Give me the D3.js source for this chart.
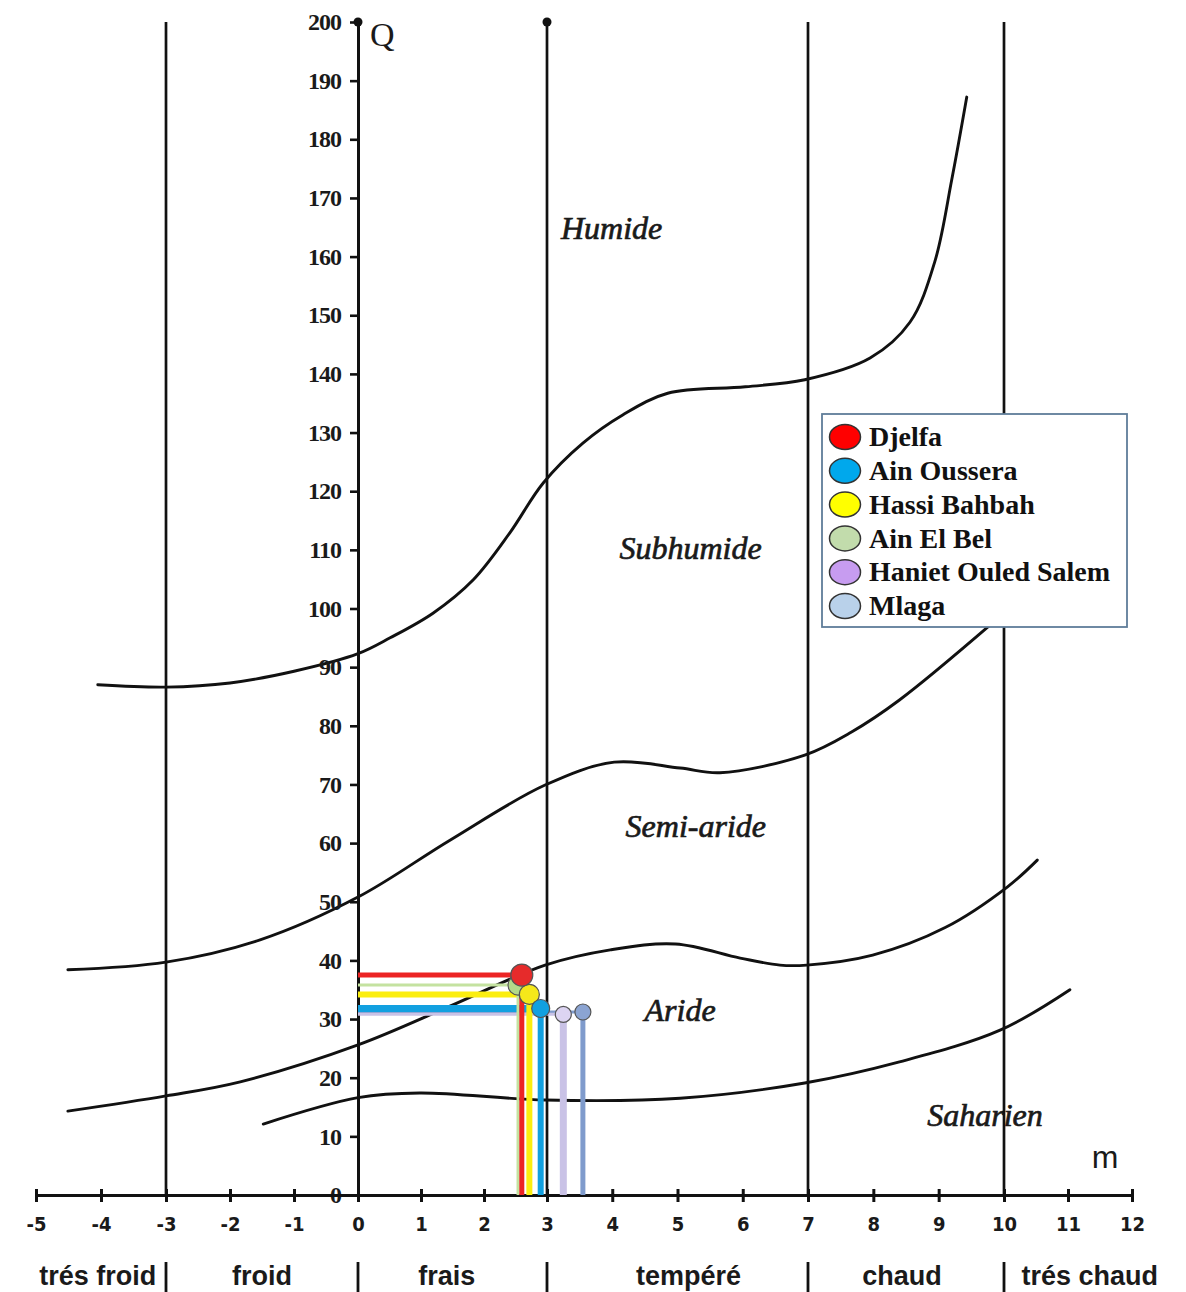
<!DOCTYPE html>
<html>
<head>
<meta charset="utf-8">
<script src="https://cdn.jsdelivr.net/npm/d3@7"></script>
<style>
  body { margin: 0; background: #fff; }
  svg { display: block; }
</style>
</head>
<body>
<script>
// Emberger climagram: Q (pluviothermic quotient) against m (mean min temp of coldest month)

// axis ticks
const mTicks = [-5, -4, -3, -2, -1, 0, 1, 2, 3, 4, 5, 6, 7, 8, 9, 10, 11, 12];
const qTicks = [0, 10, 20, 30, 40, 50, 60, 70, 80, 90, 100, 110, 120, 130, 140, 150, 160, 170, 180, 190, 200];

// winter variants along the bottom
const zoneNames = ["trés froid", "froid", "frais", "tempéré", "chaud", "trés chaud"];
const zoneCenters = [-4.05, -1.5, 1.41, 5.17, 8.44, 11.34];
const zoneBounds = [-3, 0, 3, 7, 10];

// bioclimatic stage boundaries, [m, Q]
const curveHumide = [[-4.05, 87], [-3, 86.6], [-2, 87.3], [-1, 89.3], [0, 92.3], [0.51, 95], [1.19, 99.2],
  [1.83, 104.9], [2.41, 112.9], [2.94, 121.4], [3.55, 128.2], [4.16, 133], [4.85, 136.7], [6.04, 137.8],
  [6.95, 139], [7.95, 142.7], [8.56, 148.8], [8.94, 159.1], [9.2, 173.1], [9.43, 187.2]];
const curveSubhumide = [[-4.51, 38.4], [-3, 39.7], [-1.53, 43.5], [0, 50.8], [1.46, 60.5], [2.97, 69.9],
  [4.03, 73.8], [5.04, 72.8], [5.65, 72], [6.95, 75], [7.66, 78.9], [8.4, 84.4], [9.79, 97.2]];
const curveSemiAride = [[-4.51, 14.3], [-3, 16.9], [-1.84, 19.3], [0, 25.6], [1.46, 32.2], [2.97, 39.2],
  [3.97, 41.8], [4.97, 42.8], [5.96, 40.4], [6.57, 39.2], [6.98, 39.2], [7.99, 40.9], [9.1, 45.6],
  [10.05, 52.5], [10.52, 57.1]];
const curveAride = [[-1.48, 12.1], [0, 16.6], [0.98, 17.4], [2.97, 16.2], [5.04, 16.5], [6.95, 19.1],
  [8.4, 22.7], [9.94, 28.1], [11.03, 35]];

const stageNames = ["Humide", "Subhumide", "Semi-aride", "Aride", "Saharien"];
const stageM = [3.99, 5.2, 5.28, 5.04, 9.71];
const stageQ = [164.9, 110.3, 62.9, 31.5, 13.6];

// stations
const stations = ["Djelfa", "Ain Oussera", "Hassi Bahbah", "Ain El Bel", "Haniet Ouled Salem", "Mlaga"];
const stationM = [2.6, 2.9, 2.72, 2.54, 3.25, 3.55];
const stationQ = [37.5, 31.8, 34.2, 35.8, 30.8, 31.2];

// styles
const legendColors = ["#ff0000", "#00a8ec", "#ffff00", "#c2dcac", "#c79cf0", "#b9d1ea"];
const lineColors = ["#ec2424", "#12a0e0", "#fbee10", "#c4e2a0", "#c9c2e6", "#7f9bcc"];
const dotFill = ["#e62b2b", "#12a0e0", "#f5e81a", "#b3d98a", "#dcd4f2", "#8ba4d2"];
const hWidth = [5, 7, 6, 3, 3, 3];
const vWidth = [5, 6, 6, 3, 7, 5];
const dotR = [11, 9, 10, 10, 8, 8];

const width = 1186, height = 1292;
const svg = d3.select("body").append("svg")
  .attr("width", width)
  .attr("height", height);

const x = d3.scaleLinear()
  .domain([-5, -3, 0, 3, 7, 10, 12])
  .range([36, 166, 358, 547, 808, 1004, 1132]);
const y = d3.scaleLinear().domain([0, 200]).range([1195, 22]);

const ink = "#111";

// stage names
svg.selectAll("text.stage")
  .data(stageNames)
  .enter().append("text")
  .attr("class", "stage")
  .attr("x", (d, i) => x(stageM[i]))
  .attr("y", (d, i) => y(stageQ[i]))
  .attr("dy", "0.35em")
  .attr("text-anchor", "middle")
  .style("font-family", "'Liberation Serif', 'Times New Roman', serif")
  .style("font-style", "italic")
  .style("font-size", "32px")
  .style("fill", "#1a1a1a")
  .style("stroke", "#1a1a1a")
  .style("stroke-width", 0.7)
  .text(d => d);

// boundary curves
const line = d3.line()
  .x(d => x(d[0]))
  .y(d => y(d[1]))
  .curve(d3.curveCatmullRom.alpha(0.5));

svg.selectAll("path.curve")
  .data([curveHumide, curveSubhumide, curveSemiAride, curveAride])
  .enter().append("path")
  .attr("class", "curve")
  .attr("d", line)
  .attr("fill", "none")
  .attr("stroke", ink)
  .attr("stroke-width", 2.9)
  .attr("stroke-linecap", "round");

// vertical zone lines
svg.selectAll("line.zone")
  .data(zoneBounds.filter(b => b !== 0))
  .enter().append("line")
  .attr("x1", d => x(d)).attr("x2", d => x(d))
  .attr("y1", y(200)).attr("y2", y(0))
  .attr("stroke", ink)
  .attr("stroke-width", 2.7);

// Y axis
const yAxis = svg.append("g")
  .attr("transform", `translate(${x(0)},0)`)
  .call(d3.axisLeft(y).tickValues(qTicks).tickSize(8).tickSizeOuter(0).tickPadding(9));
yAxis.select(".domain").attr("stroke", ink).attr("stroke-width", 3);
yAxis.selectAll(".tick line").attr("stroke", ink).attr("stroke-width", 2.6);
yAxis.selectAll(".tick text")
  .style("font-family", "'Liberation Serif', 'Times New Roman', serif")
  .style("font-size", "24px")
  .style("font-weight", "bold")
  .style("letter-spacing", "-1px")
  .style("fill", "#1a1a1a");

// dots at top of axis and m=3 line
svg.selectAll("circle.cap")
  .data([0, 3])
  .enter().append("circle")
  .attr("cx", d => x(d)).attr("cy", y(200))
  .attr("r", 4.5).attr("fill", ink);

// X axis
const xAxis = svg.append("g")
  .attr("transform", `translate(0,${y(0)})`)
  .call(d3.axisBottom(x).tickValues(mTicks).tickFormat(d => String(d))
    .tickSize(7).tickSizeOuter(0).tickPadding(15));
xAxis.select(".domain").attr("stroke", ink).attr("stroke-width", 3);
xAxis.selectAll(".tick line").attr("y1", -6).attr("stroke", ink).attr("stroke-width", 3);
xAxis.selectAll(".tick text")
  .style("font-family", "'Liberation Sans Narrow', 'DejaVu Sans Condensed', 'Liberation Sans', sans-serif")
  .style("font-size", "20px")
  .style("font-weight", "bold")
  .style("fill", "#1a1a1a");

// axis titles
svg.append("text")
  .attr("x", x(0) + 12).attr("y", y(200) + 24)
  .style("font-family", "'Liberation Serif', serif")
  .style("font-size", "34px")
  .style("fill", "#1a1a1a")
  .text("Q");
svg.append("text")
  .attr("x", 1105).attr("y", 1168)
  .attr("text-anchor", "middle")
  .style("font-family", "'Liberation Sans', Arial, sans-serif")
  .style("font-size", "32px")
  .style("fill", "#1a1a1a")
  .text("m");

// winter variant labels and separators
svg.selectAll("text.zone")
  .data(zoneNames)
  .enter().append("text")
  .attr("x", (d, i) => x(zoneCenters[i]))
  .attr("y", 1285)
  .attr("text-anchor", "middle")
  .style("font-family", "'Liberation Sans', Arial, sans-serif")
  .style("font-size", "27px")
  .style("font-weight", "bold")
  .style("fill", "#1a1a1a")
  .text(d => d);
svg.selectAll("line.sep")
  .data(zoneBounds)
  .enter().append("line")
  .attr("x1", d => x(d)).attr("x2", d => x(d))
  .attr("y1", 1262).attr("y2", 1292)
  .attr("stroke", ink).attr("stroke-width", 2.8);

// station projections
const order = d3.range(stations.length).reverse();
svg.selectAll("line.h")
  .data(order)
  .enter().append("line")
  .attr("x1", x(0)).attr("x2", i => x(stationM[i]))
  .attr("y1", i => y(stationQ[i])).attr("y2", i => y(stationQ[i]))
  .attr("stroke", i => lineColors[i])
  .attr("stroke-width", i => hWidth[i]);
svg.selectAll("line.v")
  .data(order)
  .enter().append("line")
  .attr("x1", i => x(stationM[i])).attr("x2", i => x(stationM[i]))
  .attr("y1", i => y(stationQ[i])).attr("y2", y(0))
  .attr("stroke", i => lineColors[i])
  .attr("stroke-width", i => vWidth[i]);
svg.selectAll("circle.st")
  .data(order)
  .enter().append("circle")
  .attr("cx", i => x(stationM[i]))
  .attr("cy", i => y(stationQ[i]))
  .attr("r", i => dotR[i])
  .attr("fill", i => dotFill[i])
  .attr("stroke", "#555")
  .attr("stroke-width", 1.2);

// legend
const legend = svg.append("g").attr("transform", "translate(822,414)");
legend.append("rect")
  .attr("width", 305).attr("height", 213)
  .attr("fill", "#fff")
  .attr("stroke", "#5f7d99")
  .attr("stroke-width", 1.8);
const item = legend.selectAll("g.item")
  .data(stations)
  .enter().append("g")
  .attr("transform", (d, i) => `translate(0,${23 + i * 33.8})`);
item.append("ellipse")
  .attr("cx", 23).attr("rx", 15.5).attr("ry", 12.5)
  .attr("fill", (d, i) => legendColors[i])
  .attr("stroke", "#333").attr("stroke-width", 1.5);
item.append("text")
  .attr("x", 47).attr("dy", "0.33em")
  .style("font-family", "'Liberation Serif', 'Times New Roman', serif")
  .style("font-size", "28px")
  .style("font-weight", "bold")
  .style("fill", "#111")
  .text(d => d);
</script>
</body>
</html>
